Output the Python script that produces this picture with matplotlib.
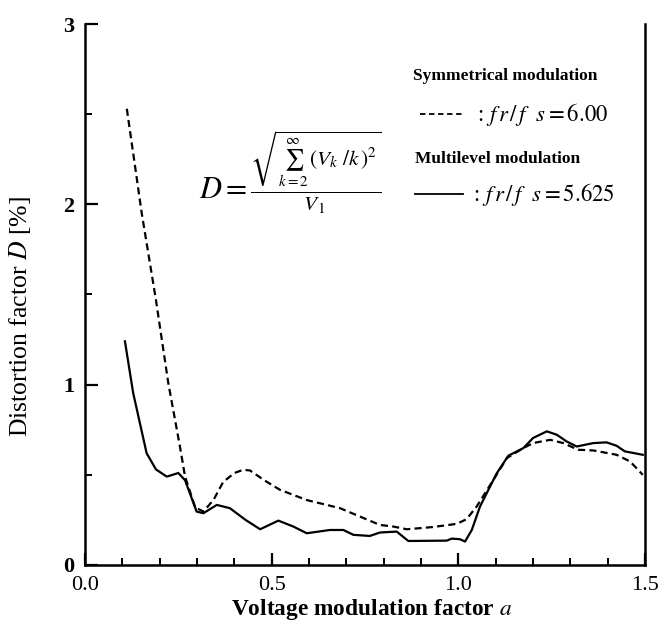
import matplotlib
matplotlib.use("Agg")
import matplotlib.pyplot as plt
from matplotlib.ticker import MultipleLocator

plt.rcParams['font.family'] = ['Liberation Serif', 'DejaVu Serif']
plt.rcParams['mathtext.fontset'] = 'stix'

# Symmetrical modulation, fr/fs = 6.00 (dashed)
sym_a = [0.112, 0.13, 0.152, 0.19, 0.223, 0.254, 0.268, 0.295, 0.317, 0.344, 0.37, 0.40,
         0.424, 0.442, 0.48, 0.522, 0.594, 0.683, 0.737, 0.79, 0.826, 0.862, 0.93, 0.996,
         1.022, 1.049, 1.094, 1.13, 1.174, 1.2, 1.246, 1.281, 1.321, 1.362, 1.424, 1.46, 1.494]
sym_d = [2.53, 2.27, 1.95, 1.47, 1.01, 0.66, 0.49, 0.32, 0.296, 0.36, 0.46, 0.51,
         0.528, 0.524, 0.47, 0.417, 0.36, 0.315, 0.268, 0.222, 0.213, 0.198, 0.21, 0.228,
         0.254, 0.324, 0.472, 0.593, 0.648, 0.676, 0.694, 0.676, 0.639, 0.635, 0.611, 0.574, 0.50]

# Multilevel modulation, fr/fs = 5.625 (solid)
mul_a = [0.107, 0.129, 0.165, 0.19, 0.219, 0.25, 0.268, 0.299, 0.317, 0.353, 0.388, 0.43,
         0.469, 0.518, 0.558, 0.594, 0.656, 0.692, 0.719, 0.763, 0.79, 0.835, 0.866, 0.969,
         0.982, 1.004, 1.018, 1.036, 1.058, 1.103, 1.134, 1.174, 1.2, 1.237, 1.264, 1.29,
         1.317, 1.362, 1.397, 1.424, 1.446, 1.494]
mul_d = [1.24, 0.954, 0.62, 0.53, 0.49, 0.51, 0.47, 0.296, 0.287, 0.333, 0.315, 0.25,
         0.198, 0.246, 0.213, 0.176, 0.194, 0.194, 0.167, 0.161, 0.18, 0.185, 0.133, 0.135,
         0.146, 0.143, 0.13, 0.194, 0.324, 0.509, 0.606, 0.648, 0.704, 0.741, 0.722, 0.685,
         0.657, 0.676, 0.68, 0.661, 0.63, 0.611]

x_ticks = [0.0, 0.5, 1.0, 1.5]
x_ticklabels = ['0.0', '0.5', '1.0', '1.5']
y_ticks = [0, 1, 2, 3]
y_ticklabels = ['0', '1', '2', '3']

fig = plt.figure(figsize=(6.61, 6.24), dpi=100)
ax = fig.add_axes([0.1286, 0.0946, 0.8472, 0.8669])

ax.plot(sym_a, sym_d, color='black', lw=1.6, linestyle=(0, (3.2, 1.9)))
ax.plot(mul_a, mul_d, color='black', lw=1.6, linestyle='-')

ax.set_xlim(0, 1.5)
ax.set_ylim(0, 3)
ax.set_xticks(x_ticks)
ax.set_xticklabels(x_ticklabels, fontsize=16)
ax.set_yticks(y_ticks)
ax.set_yticklabels(y_ticklabels, fontsize=16, fontweight='bold')
ax.xaxis.set_minor_locator(MultipleLocator(0.1))
ax.yaxis.set_minor_locator(MultipleLocator(0.5))
ax.tick_params(which='major', direction='in', length=9, width=1.6, pad=8)
ax.tick_params(which='minor', direction='in', length=5, width=1.4)
ax.spines['top'].set_visible(False)
for s in ['left', 'bottom', 'right']:
    ax.spines[s].set_linewidth(1.8)

ax.set_xlabel(r'Voltage modulation factor $\mathit{a}$', fontsize=16.8, fontweight='bold')
ax.xaxis.set_label_coords(0.511, -0.059)
ax.set_ylabel(r'Distortion factor $\mathit{D}$ [%]', fontsize=18.5)
ax.yaxis.set_label_coords(-0.092, 0.46)

# formula
ax.text(0.305, 2.175, r'$D=\frac{\sqrt{\sum_{k=2}^{\infty}\,(V_k\ /k\,)^2}}{V_1}$',
        fontsize=22, ha='left', va='center')

# legend text
ax.text(0.878, 2.71, 'Symmetrical modulation', fontsize=12.5, fontweight='bold', ha='left', va='center')
ax.plot([0.897, 1.013], [2.50, 2.50], color='black', lw=1.3, linestyle=(0, (3, 2)))
ax.text(1.05, 2.50, r': $f\,r\,/\,f\ \ s=6.00$', fontsize=16.4, ha='left', va='center')
ax.text(0.885, 2.25, 'Multilevel modulation', fontsize=12.5, fontweight='bold', ha='left', va='center')
ax.plot([0.884, 1.013], [2.056, 2.056], color='black', lw=1.3)
ax.text(1.04, 2.056, r': $f\,r\,/\,f\ \ s=5.625$', fontsize=16.4, ha='left', va='center')

fig.savefig('out.png', dpi=100)
